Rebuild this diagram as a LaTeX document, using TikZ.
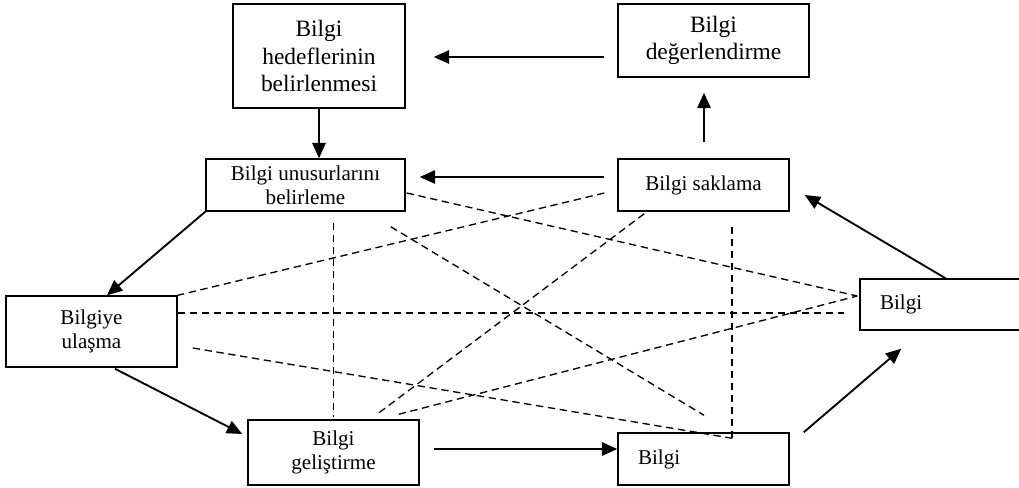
\documentclass[tikz,border=0pt]{standalone}
\usepackage{fontspec}
\setmainfont{Liberation Serif}
\usetikzlibrary{arrows.meta,calc}
\tikzset{
  kutu/.style={draw, line width=1.1pt, inner sep=0pt, align=center, font=\fontsize{15.8}{18}\selectfont},
  buyukkutu/.style={kutu, font=\fontsize{17.6}{20.6}\selectfont},
  solkutu/.style={kutu, align=left, inner xsep=15pt, text width=98.25pt},
  ok/.style={-{Triangle[length=11.5pt,width=10pt]}, line width=1.4pt},
  kesik/.style={dash pattern=on 5.5pt off 3.5pt, line width=1pt}
}
\begin{document}
\begin{tikzpicture}[x=0.75pt, y=-0.75pt]
    \useasboundingbox (0,0) rectangle (1019,487);
    \clip (0,0) rectangle (1019,487);
    % Kutular
    \node[buyukkutu, minimum width=129pt, minimum height=78pt] (hedef) at (319,56) {Bilgi\\hedeflerinin\\belirlenmesi};
    \node[buyukkutu, minimum width=143.25pt, minimum height=54.75pt] (deger) at (713.5,40.5) {Bilgi\\de\u{g}erlendirme};
    \node[kutu, minimum width=149.25pt, minimum height=39pt] (unsur) at (305.5,185) {Bilgi unusurlar\i n\i\\belirleme};
    \node[kutu, minimum width=128.25pt, minimum height=39pt] (sakla) at (703.5,185) {Bilgi saklama};
    \node[kutu, minimum width=128.25pt, minimum height=53.25pt] (ulas) at (91.5,331.5) {Bilgiye\\ula\c{s}ma};
    \node[kutu, minimum width=128.25pt, minimum height=48.75pt] (gelis) at (333.5,452.5) {Bilgi\\geli\c{s}tirme};
    \node[solkutu, minimum width=128.25pt, minimum height=39pt] (alt) at (703.5,459) {Bilgi};
    \node[solkutu, minimum width=128.25pt, minimum height=38.25pt] (sag) at (945.5,304.5) {Bilgi};
    % Oklar
    \draw[ok] (hedef.south) -- (hedef.south |- unsur.north);
    \draw[ok] ($(hedef.east -| deger.west)+(-13,1)$) -- ($(hedef.east)+(28,1)$);
    \draw[ok] ($(sakla.west)+(-13,-8)$) -- ($(unsur.east)+(14,-8)$);
    \draw[ok] ($(sakla.north)+(0.5,-16)$) -- ($(sakla.north |- deger.south)+(0.5,15)$);
    \draw[ok] (unsur.south west) -- ($(ulas.north)+(15.5,0)$);
    \draw[ok] ($(ulas.south)+(23.5,1)$) -- ($(gelis.west)+(-5,-18.5)$);
    \draw[ok] ($(gelis.east)+(14,-3.5)$) -- ($(gelis.east -| alt.west)+(0,-3.5)$);
    \draw[ok] ($(alt.north east)+(14,0)$) -- ($(sag.south west)+(42,18)$);
    \draw[ok] (sag.north) -- ($(sakla.east)+(15,10)$);
    % Kesikli cizgiler
    \draw[kesik] ($(unsur.east)+(1,8)$) -- ($(sag.west)+(-2,-8.5)$);
    \draw[kesik] ($(sakla.west)+(-13,8)$) -- (ulas.north east);
    \draw[kesik] ($(ulas.east)+(0,-18.5)$) -- ($(sag.west)+(-15,8.5)$);
    \draw[kesik] ($(ulas.east)+(15,16.5)$) -- ($(alt.north)+(28.5,6)$);
    \draw[kesik] ($(gelis.north |- unsur.south)+(0,11)$) -- ($(gelis.north)+(0,-2)$);
    \draw[kesik] ($(alt.north |- sakla.south)+(28.5,15)$) -- ($(alt.north)+(28.5,6)$);
    \draw[kesik] ($(unsur.south east)+(-15,15)$) -- ($(alt.north)+(0.5,-17)$);
    \draw[kesik] ($(sakla.south west)+(27,2)$) -- ($(gelis.north)+(43.5,-5)$);
    \draw[kesik] ($(gelis.north east)+(-21,-5)$) -- ($(sag.west)+(-2,-8.5)$);
\end{tikzpicture}
\end{document}
